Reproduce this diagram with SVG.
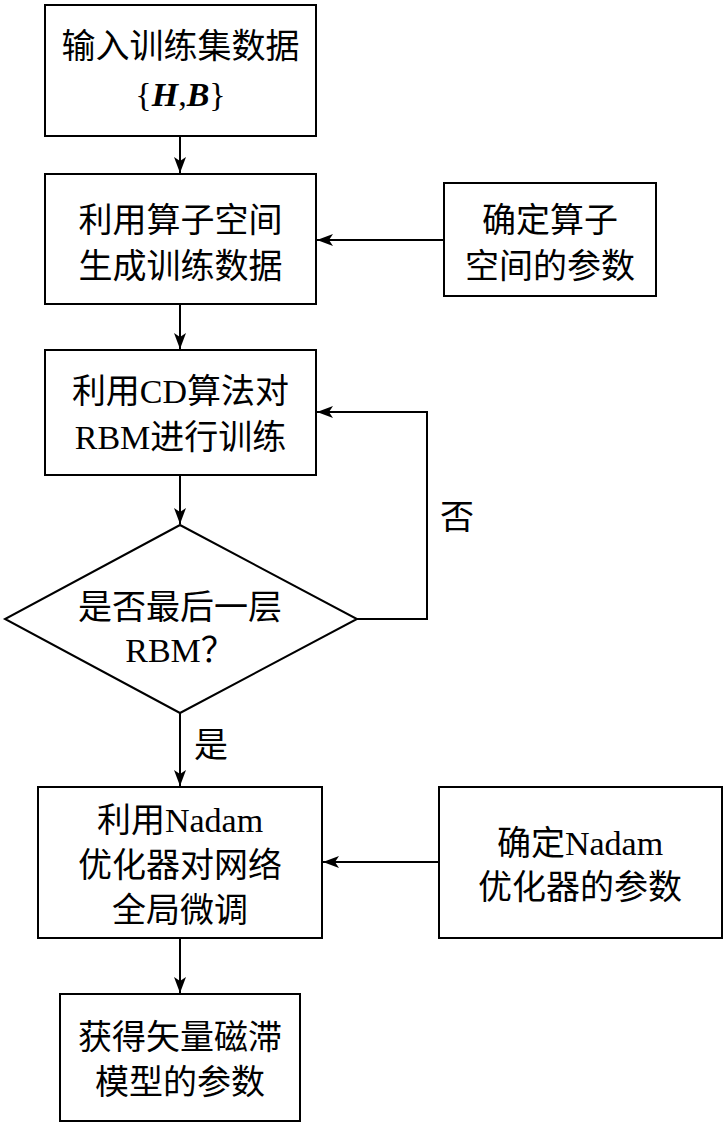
<svg xmlns="http://www.w3.org/2000/svg" width="726" height="1127" viewBox="0 0 726 1127">
<style>
.box{fill:#fff;stroke:#000;stroke-width:2}
.t{font-family:"Liberation Serif","Noto Sans CJK SC",serif;font-size:34px;text-anchor:middle;fill:#000}
.c{fill:none;stroke:#000;stroke-width:2}
</style>
<defs>
<marker id="ah" markerUnits="userSpaceOnUse" markerWidth="18" markerHeight="14" refX="16" refY="7" orient="auto">
<path d="M0,1 L16,7 L0,13 L4,7 z" fill="#000"/>
</marker>
</defs>
<rect width="726" height="1127" fill="#fff"/>
<g id="connectors">
<line class="c" x1="180" y1="136" x2="180" y2="173" marker-end="url(#ah)"/>
<line class="c" x1="444" y1="240" x2="317" y2="240" marker-end="url(#ah)"/>
<line class="c" x1="180" y1="304" x2="180" y2="349" marker-end="url(#ah)"/>
<line class="c" x1="180" y1="475" x2="180" y2="524" marker-end="url(#ah)"/>
<polyline class="c" points="357,619 427,619 427,412 317,412" marker-end="url(#ah)"/>
<line class="c" x1="180" y1="713" x2="180" y2="786" marker-end="url(#ah)"/>
<line class="c" x1="439" y1="862" x2="323" y2="862" marker-end="url(#ah)"/>
<line class="c" x1="180" y1="938" x2="180" y2="993" marker-end="url(#ah)"/>
<text class="t" x="457" y="529">否</text>
<text class="t" x="211" y="757">是</text>
</g>
<g id="n1">
<rect class="box" x="45" y="5" width="271" height="131"/>
<text class="t" x="180.5" y="58">输入训练集数据</text>
<text class="t" x="180.5" y="106">{<tspan font-weight="bold" font-style="italic">H</tspan>,<tspan font-weight="bold" font-style="italic">B</tspan>}</text>
</g>
<g id="n2">
<rect class="box" x="45" y="174" width="271" height="130"/>
<text class="t" x="180.5" y="232">利用算子空间</text>
<text class="t" x="180.5" y="278">生成训练数据</text>
</g>
<g id="n3">
<rect class="box" x="444" y="183" width="212" height="113"/>
<text class="t" x="550" y="232">确定算子</text>
<text class="t" x="550" y="278">空间的参数</text>
</g>
<g id="n4">
<rect class="box" x="45" y="350" width="271" height="125"/>
<text class="t" x="180.5" y="403">利用CD算法对</text>
<text class="t" x="180.5" y="449">RBM进行训练</text>
</g>
<g id="n5">
<polygon class="box" points="180,525 357,619 180,713 5,619"/>
<text class="t" x="180" y="619">是否最后一层</text>
<text class="t" x="180" y="662">RBM？</text>
</g>
<g id="n6">
<rect class="box" x="38" y="787" width="284" height="151"/>
<text class="t" x="180" y="832">利用Nadam</text>
<text class="t" x="180" y="877">优化器对网络</text>
<text class="t" x="180" y="922">全局微调</text>
</g>
<g id="n7">
<rect class="box" x="439" y="787" width="283" height="151"/>
<text class="t" x="580" y="855">确定Nadam</text>
<text class="t" x="580" y="899">优化器的参数</text>
</g>
<g id="n8">
<rect class="box" x="60" y="994" width="240" height="127"/>
<text class="t" x="180" y="1049">获得矢量磁滞</text>
<text class="t" x="180" y="1094">模型的参数</text>
</g>
</svg>
